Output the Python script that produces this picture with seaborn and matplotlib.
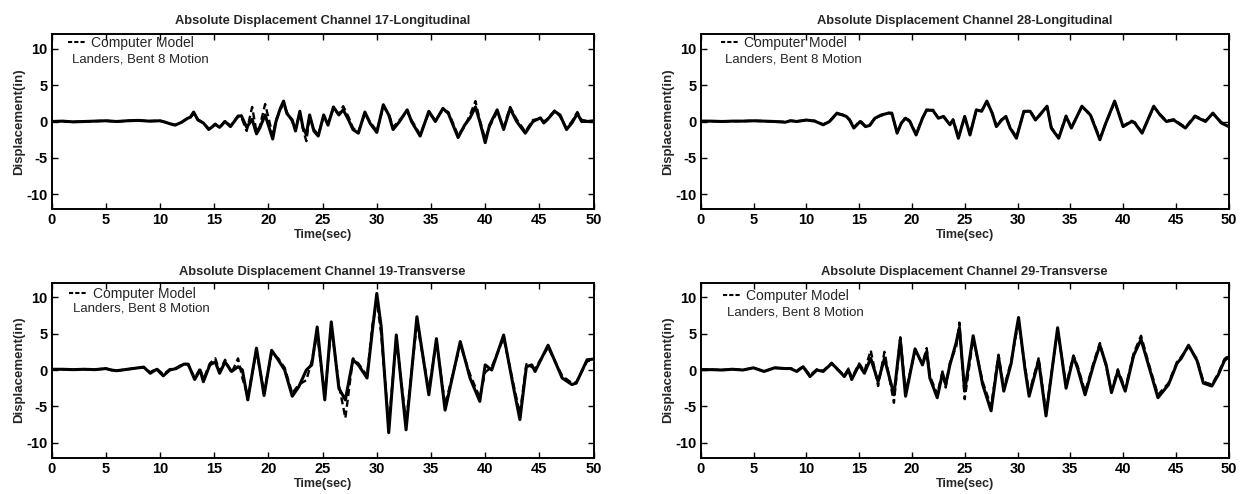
import numpy as np
import pandas as pd
import matplotlib
matplotlib.use("Agg")
import matplotlib.pyplot as plt
from matplotlib.lines import Line2D
import seaborn as sns

# ---------------- data ----------------
TITLES = [
    "Absolute Displacement Channel 17-Longitudinal",
    "Absolute Displacement Channel 28-Longitudinal",
    "Absolute Displacement Channel 19-Transverse",
    "Absolute Displacement Channel 29-Transverse",
]
LEGEND_MODEL = "Computer Model"
LEGEND_REC = "Landers, Bent 8 Motion"
X_TICKS = [0, 5, 10, 15, 20, 25, 30, 35, 40, 45, 50]
Y_TICKS = [-10, -5, 0, 5, 10]

# Channel 17 - Longitudinal
T1 = [0, 1, 2, 3, 4, 5, 6, 7, 8, 9,
      10, 10.5, 11, 11.4, 12, 12.5, 12.8, 13.1, 13.5, 14.0,
      14.5, 15.1, 15.5, 16.0, 16.5, 17.2, 17.5, 18.0, 18.5, 18.9,
      19.2, 19.7, 20.4, 20.7, 21.1, 21.4, 21.7, 22.2, 22.5, 22.9,
      23.2, 23.5, 23.8, 24.2, 24.6, 25.1, 25.5, 26.0, 26.5, 26.9,
      27.4, 27.8, 28.3, 28.9, 29.4, 30.0, 30.6, 31.1, 31.5, 32.1,
      32.8, 33.2, 34.0, 34.8, 35.4, 36.1, 36.6, 37.5, 38.1, 38.6,
      39.1, 39.5, 40.0, 40.4, 41.1, 41.7, 42.3, 42.9, 43.7, 44.4,
      45.1, 45.4, 45.7, 46.4, 46.9, 47.5, 48.0, 48.5, 48.9, 49.4,
      50.0]
REC1 = [0.0, 0.05, -0.05, 0.0, 0.05, 0.1, 0.0, 0.1, 0.15, 0.05,
        0.1, -0.1, -0.35, -0.5, -0.1, 0.4, 0.6, 1.3, 0.2, -0.2,
        -1.1, -0.4, -0.8, 0.0, -0.7, 0.7, 0.8, -0.8, 0.3, -1.7,
        -0.9, 0.9, -2.4, 0.0, 1.8, 2.8, 1.1, 0.2, -1.3, 1.4,
        -0.9, -1.8, 0.9, -1.3, -2.0, 0.9, -0.5, 2.0, 0.9, 1.6,
        0.2, -1.1, -1.6, 1.3, -0.3, -1.5, 2.3, 0.9, -1.1, 0.0,
        1.6, 0.0, -2.0, 1.4, 0.0, 1.8, 1.1, -2.2, -0.5, 0.5,
        2.0, 0.0, -2.9, -0.5, 1.6, -1.1, 1.8, 0.0, -1.6, 0.0,
        0.5, -0.2, 0.2, 1.4, 0.9, -1.1, -0.2, 1.1, 0.0, 0.0,
        0.1]
MOD1 = [0.0, 0.05, -0.05, 0.0, 0.05, 0.1, 0.0, 0.1, 0.15, 0.05,
        0.1, -0.1, -0.3, -0.45, -0.1, 0.4, 0.5, 1.1, 0.3, -0.2,
        -1.0, -0.3, -0.9, 0.1, -0.6, 0.8, 0.6, -1.3, 2.0, -1.4,
        -0.7, 2.4, -1.9, 0.2, 1.6, 2.5, 1.3, 0.0, -1.1, 1.2,
        -1.1, -2.7, 0.7, -1.1, -1.8, 0.6, -0.3, 1.8, 1.0, 2.1,
        0.6, -0.9, -1.4, 1.1, -0.1, -1.3, 2.0, 1.1, -0.8, 0.2,
        1.4, 0.2, -1.8, 1.2, 0.2, 1.6, 1.3, -1.9, -0.7, 0.9,
        2.8, 0.2, -2.4, -0.7, 1.3, -0.8, 2.0, 0.3, -1.4, 0.2,
        0.4, 0.0, 0.3, 1.5, 0.7, -0.9, 0.0, 1.3, 0.2, 0.1,
        0.0]

# Channel 28 - Longitudinal
T2 = [0, 1, 2, 3, 4, 5, 6, 7, 8, 8.5,
      9.1, 10.0, 10.8, 11.6, 12.2, 12.9, 13.4, 13.8, 14.1, 14.5,
      15.1, 15.6, 16.0, 16.5, 17.1, 17.8, 18.1, 18.6, 19.0, 19.4,
      19.8, 20.4, 21.0, 21.4, 22.0, 22.5, 23.0, 23.6, 23.9, 24.4,
      25.0, 25.5, 26.1, 26.6, 27.1, 27.6, 28.0, 28.5, 28.9, 29.3,
      29.9, 30.6, 31.2, 31.7, 32.1, 32.8, 33.2, 33.9, 34.6, 35.1,
      36.1, 36.9, 37.8, 38.3, 39.2, 40.0, 40.8, 41.1, 41.8, 42.9,
      43.5, 44.1, 44.8, 45.9, 46.8, 47.8, 48.5, 49.3, 50.0]
REC2 = [0.05, 0.05, 0.0, 0.05, 0.05, 0.1, 0.05, 0.0, -0.1, 0.1,
        0.0, 0.2, 0.05, -0.45, 0.0, 1.15, 0.9, 0.7, 0.2, -0.9,
        0.0, -0.7, -0.55, 0.45, 0.9, 1.15, 1.15, -1.6, -0.2, 0.45,
        0.0, -1.85, 0.45, 1.6, 1.5, 0.45, 0.7, -0.45, 0.2, -2.3,
        0.7, -1.85, 1.6, 1.4, 2.8, 1.15, -0.7, 0.2, 0.7, -0.9,
        -2.3, 1.4, 1.4, 0.2, 0.9, 2.1, -0.9, -2.3, 0.7, -0.9,
        2.1, 0.9, -2.5, -0.45, 2.8, -0.7, 0.0, -0.2, -1.6, 2.1,
        0.9, 0.0, 0.2, -0.9, 0.7, 0.0, 1.15, -0.2, -0.7]
MOD2 = [0.05, 0.05, 0.0, 0.05, 0.05, 0.1, 0.05, 0.0, -0.05, 0.1,
        0.05, 0.15, 0.1, -0.4, 0.05, 1.0, 1.0, 0.6, 0.3, -0.8,
        0.1, -0.6, -0.5, 0.5, 0.8, 1.2, 1.0, -1.4, -0.3, 0.6,
        0.1, -1.7, 0.5, 1.5, 1.6, 0.5, 0.6, -0.4, 0.3, -2.1,
        0.6, -1.7, 1.5, 1.5, 2.6, 1.2, -0.6, 0.3, 0.6, -0.8,
        -2.1, 1.3, 1.5, 0.3, 0.8, 2.0, -0.8, -2.2, 0.8, -0.8,
        2.0, 1.0, -2.3, -0.5, 2.7, -0.6, 0.1, -0.1, -1.5, 2.0,
        1.0, 0.1, 0.3, -0.8, 0.8, 0.1, 1.1, -0.1, -0.6]

# Channel 19 - Transverse
T3 = [0, 1, 2, 3, 4, 5, 5.5, 6, 7, 8,
      8.5, 9.1, 9.7, 10.3, 10.9, 11.5, 12.2, 12.6, 13.2, 13.7,
      14.0, 14.6, 15.1, 15.5, 16.0, 16.6, 17.2, 17.6, 18.1, 18.9,
      19.6, 20.3, 20.9, 21.5, 22.2, 22.8, 23.5, 24.0, 24.5, 25.2,
      25.8, 26.5, 27.1, 27.8, 28.3, 29.1, 29.6, 30.0, 30.4, 31.1,
      31.8, 32.7, 33.7, 34.8, 35.5, 36.3, 37.7, 38.6, 39.5, 40.0,
      40.6, 41.7, 42.6, 43.2, 43.8, 44.3, 44.6, 45.8, 47.1, 48.0,
      48.4, 49.4, 50.0]
REC3 = [0.1, 0.1, 0.05, 0.1, 0.05, 0.2, 0.0, -0.1, 0.1, 0.3,
        0.4, -0.45, 0.1, -0.8, 0.0, 0.2, 0.8, 0.8, -1.3, 0.0,
        -1.6, 0.7, 1.1, -0.45, 1.1, -0.2, 0.45, 0.0, -4.1, 3.0,
        -3.5, 2.7, 1.4, 0.0, -3.6, -2.3, 0.0, 0.7, 5.9, -4.1,
        6.6, -2.5, -4.1, 1.4, 0.7, -1.1, 5.5, 10.5, 6.0, -8.6,
        4.8, -8.2, 7.3, -3.4, 4.3, -5.5, 3.9, -1.1, -4.3, 0.7,
        0.0, 4.8, -2.3, -6.8, 0.45, 0.7, -0.2, 3.4, -1.1, -2.0,
        -1.8, 1.4, 1.5]
MOD3 = [0.1, 0.1, 0.05, 0.1, 0.05, 0.2, 0.0, -0.1, 0.1, 0.3,
        0.3, -0.3, 0.2, -0.6, 0.1, 0.3, 0.9, 0.7, -1.1, 0.2,
        -1.3, 0.9, 1.6, -0.2, 1.4, -0.4, 1.6, -1.1, -3.6, 2.6,
        -3.0, 2.3, 1.6, 0.3, -3.2, -2.0, -1.4, 1.2, 5.0, -3.6,
        6.0, -2.0, -6.6, 1.6, 0.9, -0.8, 6.2, 9.5, 5.0, -7.5,
        4.2, -7.2, 6.5, -2.8, 4.0, -4.8, 3.5, -0.6, -3.8, -0.3,
        0.4, 4.4, -1.9, -6.0, 0.8, 0.4, 0.2, 3.1, -0.8, -1.8,
        -1.7, 1.2, 1.4]

# Channel 29 - Transverse
T4 = [0, 1, 2, 3, 4, 5, 6, 7, 8, 8.5,
      9.1, 9.7, 10.35, 11.0, 11.6, 12.4, 12.9, 13.6, 14.0, 14.3,
      15.0, 15.5, 16.1, 16.8, 17.4, 18.3, 18.9, 19.4, 20.3, 21.0,
      21.4, 21.7, 22.4, 22.9, 23.2, 23.6, 24.2, 24.5, 25.0, 25.8,
      26.7, 27.5, 28.2, 28.7, 29.4, 29.8, 30.1, 30.7, 31.1, 32.0,
      32.7, 33.8, 34.6, 35.3, 35.7, 36.4, 37.2, 37.8, 38.4, 38.9,
      39.5, 40.2, 41.0, 41.7, 42.5, 43.3, 44.3, 45.1, 45.5, 46.2,
      47.0, 47.6, 48.4, 49.0, 49.6, 50.0]
REC4 = [0.05, 0.05, 0.0, 0.1, 0.0, 0.3, -0.2, 0.3, 0.2, 0.2,
        -0.2, 0.45, -0.9, 0.0, -0.2, 0.9, 0.2, -0.9, 0.0, -1.3,
        0.7, -0.45, 1.6, -1.6, 1.6, -3.4, 4.2, -3.6, 2.9, 0.7,
        2.5, -1.1, -3.8, -0.45, -2.0, 0.7, 3.8, 5.8, -2.9, 4.7,
        -2.0, -5.6, 1.8, -2.9, 0.9, 4.7, 7.2, 0.2, -3.6, 1.3,
        -6.3, 5.8, -2.5, 1.8, 0.2, -3.4, 0.7, 3.4, 0.7, -3.1,
        -0.2, -2.9, 2.0, 4.2, 0.2, -3.8, -2.0, 0.9, 1.6, 3.4,
        1.3, -1.8, -2.2, -0.7, 1.3, 1.8]
MOD4 = [0.05, 0.05, 0.0, 0.1, 0.0, 0.3, -0.2, 0.3, 0.2, 0.25,
        -0.1, 0.5, -0.7, 0.1, -0.1, 1.0, 0.1, -0.7, 0.2, -1.1,
        0.9, -0.2, 2.7, -2.2, 2.5, -4.5, 4.5, -3.0, 2.6, 0.9,
        3.0, -0.8, -3.3, -0.2, -2.4, 1.0, 3.2, 6.5, -4.0, 4.3,
        -1.6, -5.0, 2.1, -2.5, 1.2, 4.3, 6.6, 0.6, -3.2, 1.6,
        -5.8, 5.5, -2.1, 2.0, 0.5, -3.0, 1.0, 3.7, 0.4, -3.0,
        0.1, -2.6, 2.3, 4.7, 0.5, -3.4, -1.8, 1.1, 1.8, 3.2,
        1.5, -1.6, -2.0, -0.5, 1.5, 2.0]

# ---------------- style ----------------
sns.set_theme(style="ticks")
plt.rcParams["font.family"] = ["Liberation Sans", "DejaVu Sans"]
plt.rcParams["axes.unicode_minus"] = False

W, H = 1243, 494
fig = plt.figure(figsize=(W / 100, H / 100), dpi=100)
fig.patch.set_facecolor("white")

def rect(x0, x1, ytop, ybot):
    return [x0 / W, 1 - ybot / H, (x1 - x0) / W, (ybot - ytop) / H]

panels = [
    (TITLES[0], T1, REC1, MOD1, rect(51.6, 593.6, 34, 209), 7.0, (0.038, 0.948, 0.855)),
    (TITLES[1], T2, REC2, MOD2, rect(700.7, 1228.7, 34, 209), 7.0, (0.046, 0.948, 0.855)),
    (TITLES[2], T3, REC3, MOD3, rect(51.6, 593.6, 282.5, 457.5), 5.5, (0.040, 0.936, 0.852)),
    (TITLES[3], T4, REC4, MOD4, rect(700.7, 1228.7, 282.5, 457.5), 5.5, (0.050, 0.925, 0.830)),
]

for title, T, R, M, pos, tpad, (lx, ly1, ly2) in panels:
    assert len(T) == len(R) == len(M)
    ax = fig.add_axes(pos)
    df = pd.DataFrame({"t": T, "rec": R, "model": M})
    sns.lineplot(data=df, x="t", y="rec", ax=ax, color="black", lw=2.2,
                 sort=False, legend=False, solid_joinstyle="round",
                 solid_capstyle="round")
    sns.lineplot(data=df, x="t", y="model", ax=ax, color="black", lw=1.7,
                 linestyle=(0, (3.0, 1.6)), sort=False, legend=False,
                 dash_joinstyle="round")
    ax.set_xlim(0, 50)
    ax.set_ylim(-12, 12)
    ax.set_xticks(X_TICKS)
    ax.set_yticks(Y_TICKS)
    ax.tick_params(direction="in", top=True, right=True, length=4, width=1.0,
                   labelsize=10.5, pad=3, colors="black")
    for lab in ax.get_xticklabels() + ax.get_yticklabels():
        lab.set_fontweight("bold")
    for sp in ax.spines.values():
        sp.set_linewidth(1.4)
        sp.set_color("black")
    ax.set_title(title, fontsize=9.3, fontweight="bold", pad=tpad)
    ax.set_xlabel("Time(sec)", fontsize=9, fontweight="bold", labelpad=1.5)
    ax.set_ylabel("Displacement(in)", fontsize=9.5, fontweight="bold", labelpad=1)
    handle = Line2D([], [], color="black", lw=1.5, linestyle=(0, (2.0, 1.0)))
    ax.legend([handle], [LEGEND_MODEL], loc="center left",
              bbox_to_anchor=(lx - 0.008, ly1), frameon=False, handlelength=1.3,
              handletextpad=0.4, borderpad=0, borderaxespad=0, fontsize=10)
    ax.text(lx, ly2, LEGEND_REC, transform=ax.transAxes, ha="left",
            va="center", fontsize=9.5)

fig.savefig("out.png", dpi=100, facecolor="white")
